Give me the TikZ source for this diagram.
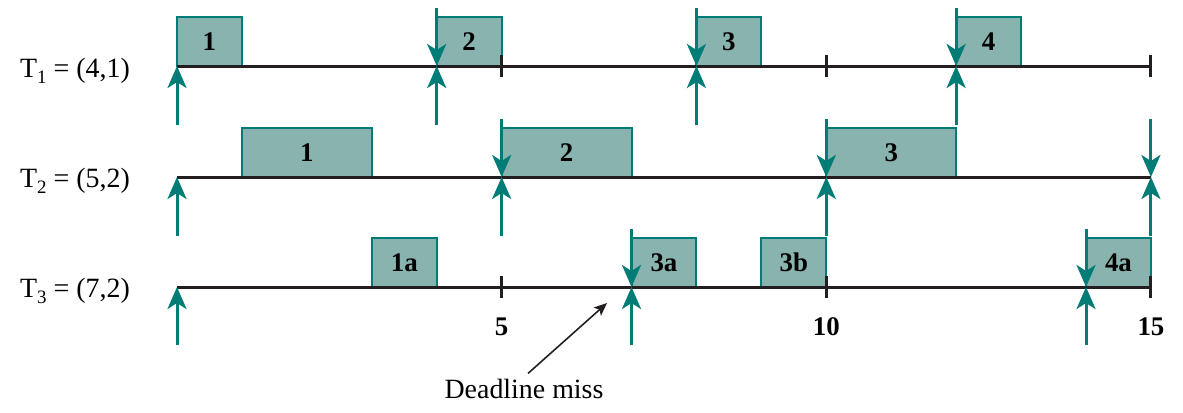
\documentclass[tikz,border=0pt]{standalone}
\usepackage{fontspec}
\setmainfont{Liberation Serif}
\usetikzlibrary{arrows.meta}
\definecolor{tealc}{HTML}{007C76}
\definecolor{boxfill}{HTML}{89B3AE}
\definecolor{axisc}{HTML}{231F20}
\tikzset{
  job/.style={draw=tealc, fill=boxfill, line width=2bp, minimum height=49bp,
    inner sep=0pt, outer sep=0pt, anchor=south west,
    font=\fontsize{27}{30}\selectfont\bfseries},
  axisline/.style={draw=axisc, line width=3bp},
  tickmark/.style={draw=axisc, line width=3bp},
  evarrow/.style={draw=tealc, line width=3bp,
    -{Stealth[length=22bp,width=19bp,inset=6bp]}},
  tasklabel/.style={anchor=base west, inner sep=0pt, font=\fontsize{28}{32}\selectfont},
  ticklabel/.style={anchor=base, inner sep=0pt, font=\fontsize{27}{30}\selectfont\bfseries},
  misslabel/.style={anchor=base, inner sep=0pt, font=\fontsize{28}{32}\selectfont},
  missarrow/.style={draw=axisc, line width=1.6bp,
    -{Stealth[length=13bp,width=11bp,inset=3bp]}},
}
\newcommand{\subT}[1]{\raisebox{-6bp}{\fontsize{19}{19}\selectfont #1}}
\begin{document}
\begin{tikzpicture}[x=1bp,y=-1bp]
\useasboundingbox (0,0) rectangle (1183,412);
\def\u{64.93}
% ---- job boxes
% row 1 (y=66)
\foreach \t/\n in {0/1,4/2,8/3,12/4}{
  \node[job, minimum width=\u bp] (a\n) at ({177+\u*\t},66) {\n};
}
% row 2 (y=177)
\foreach \t/\n in {1/1,5/2,10/3}{
  \node[job, minimum width=2*\u bp] (b\n) at ({177+\u*\t},177) {\n};
}
% row 3 (y=287)
\foreach \t/\n in {3/1a,7/3a,9/3b,14/4a}{
  \node[job, minimum width=\u bp] (c\n) at ({177+\u*\t},287) {\n};
}
% ---- axis lines
\foreach \r/\y in {1/66,2/177,3/287}{
  \coordinate (s\r) at (177,\y);
  \coordinate (e\r) at (1151,\y);
  \draw[axisline] (s\r) -- (e\r);
}
% ---- ticks
\foreach \t in {5,10,15}{
  \coordinate (t1a\t) at ({177+\u*\t},55);
  \coordinate (t1b\t) at ({177+\u*\t},77);
  \draw[tickmark] (t1a\t) -- (t1b\t);
  \coordinate (t3a\t) at ({177+\u*\t},276);
  \coordinate (t3b\t) at ({177+\u*\t},298);
  \draw[tickmark] (t3a\t) -- (t3b\t);
}
% ---- release (up) arrows
\foreach \t in {0,4,8,12}{
  \coordinate (r1f\t) at ({177+\u*\t},125);
  \coordinate (r1t\t) at ({177+\u*\t},66);
  \draw[evarrow] (r1f\t) -- (r1t\t);
}
\foreach \t in {0,5,10,15}{
  \coordinate (r2f\t) at ({177+\u*\t},236);
  \coordinate (r2t\t) at ({177+\u*\t},177);
  \draw[evarrow] (r2f\t) -- (r2t\t);
}
\foreach \t in {0,7,14}{
  \coordinate (r3f\t) at ({177+\u*\t},345);
  \coordinate (r3t\t) at ({177+\u*\t},287);
  \draw[evarrow] (r3f\t) -- (r3t\t);
}
% ---- deadline (down) arrows
\foreach \t in {4,8,12}{
  \coordinate (d1f\t) at ({177+\u*\t},8);
  \draw[evarrow] (d1f\t) -- (r1t\t);
}
\foreach \t in {5,10,15}{
  \coordinate (d2f\t) at ({177+\u*\t},119);
  \draw[evarrow] (d2f\t) -- (r2t\t);
}
\foreach \t in {7,14}{
  \coordinate (d3f\t) at ({177+\u*\t},229);
  \draw[evarrow] (d3f\t) -- (r3t\t);
}
% ---- task labels
\node[tasklabel] (L1) at (20,77) {T\subT{1} = (4,1)};
\node[tasklabel] (L2) at (20,187) {T\subT{2} = (5,2)};
\node[tasklabel] (L3) at (20,297) {T\subT{3} = (7,2)};
% ---- tick labels
\node[ticklabel] (n5) at ({177+\u*5},335) {5};
\node[ticklabel] (n10) at ({177+\u*10},335) {10};
\node[ticklabel] (n15) at ({177+\u*15},335) {15};
% ---- deadline miss
\node[misslabel] (dm) at (524,398) {Deadline miss};
\coordinate (dmtip) at (607,303);
\draw[missarrow] ([xshift=4bp,yshift=5bp]dm.north) -- (dmtip);
\end{tikzpicture}
\end{document}
